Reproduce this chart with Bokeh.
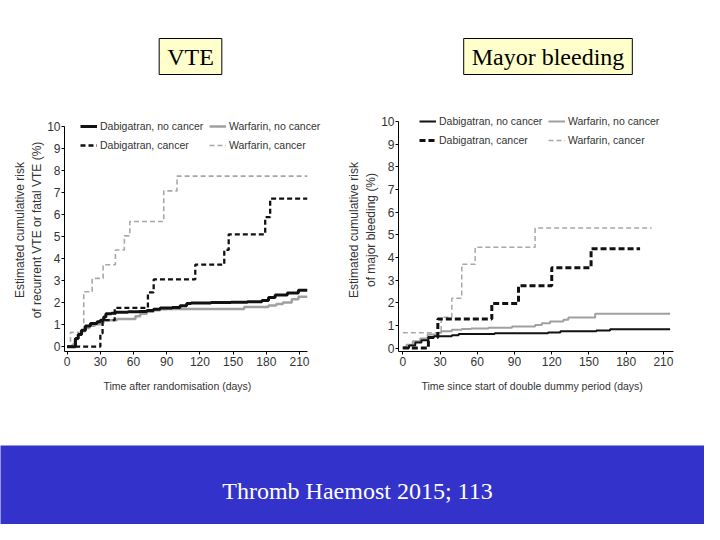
from bokeh.plotting import figure
from bokeh.layouts import column, row
from bokeh.models import Legend, LegendItem, Range1d, Label, FixedTicker, Title
from bokeh.embed import file_html
from bokeh.resources import INLINE

# ---------------- data ----------------
x_ticks = [0, 30, 60, 90, 120, 150, 180, 210]
y_ticks = list(range(0, 11))

# VTE panel (left)
vte_dab_nc_t = [0, 7.5, 10, 13, 16.5, 21, 27, 30, 33, 35, 40, 44, 55, 65, 72, 78, 84, 95, 102, 108, 112, 130, 148, 163, 176, 182, 188, 199, 209, 217]
vte_dab_nc_y = [0, 0.37, 0.55, 0.75, 0.94, 1.05, 1.13, 1.2, 1.35, 1.49, 1.52, 1.56, 1.58, 1.6, 1.64, 1.7, 1.75, 1.78, 1.86, 1.96, 1.98, 2.0, 2.02, 2.04, 2.1, 2.23, 2.35, 2.43, 2.56, 2.56]
vte_war_nc_t = [0, 5, 7, 10, 13, 16.5, 20, 25, 30, 33, 45, 61.7, 66, 72, 78, 84, 90, 160, 182, 189, 195, 203, 209, 217]
vte_war_nc_y = [0, 0.1, 0.35, 0.55, 0.7, 0.85, 0.95, 1.02, 1.1, 1.2, 1.26, 1.38, 1.49, 1.58, 1.65, 1.7, 1.71, 1.8, 1.87, 1.94, 2.0, 2.15, 2.26, 2.26]
vte_dab_c_t = [0, 30, 32, 43, 73, 78.2, 115.8, 142, 146, 179, 183.5, 217]
vte_dab_c_y = [0, 0.6, 1.2, 1.76, 2.46, 3.05, 3.72, 4.39, 5.1, 5.88, 6.72, 6.72]
vte_war_c_t = [0, 3, 15, 22.6, 32.5, 43.6, 51.7, 56.6, 87.3, 99.3, 217]
vte_war_c_y = [0, 0.65, 2.49, 3.1, 3.72, 4.39, 5.03, 5.68, 7.07, 7.74, 7.74]

# Major bleeding panel (right)
mb_dab_nc_t = [0, 5, 10, 15, 20.6, 25, 39.5, 45, 74, 117, 127, 156, 167, 215.4]
mb_dab_nc_y = [0, 0.12, 0.25, 0.35, 0.47, 0.52, 0.57, 0.62, 0.66, 0.69, 0.74, 0.78, 0.83, 0.83]
mb_war_nc_t = [0, 3, 8, 14, 20, 28, 31, 39.5, 47.5, 55, 69, 88, 106.6, 112, 118.6, 129.4, 133.4, 155, 215.4]
mb_war_nc_y = [0.05, 0.15, 0.3, 0.42, 0.6, 0.68, 0.74, 0.81, 0.84, 0.87, 0.9, 0.95, 1.02, 1.1, 1.17, 1.25, 1.35, 1.52, 1.52]
mb_dab_c_t = [0, 20.6, 28.2, 71.7, 93.2, 120, 151.7, 191.2]
mb_dab_c_y = [0, 0.47, 1.28, 1.97, 2.75, 3.55, 4.38, 4.38]
mb_war_c_t = [0, 30.9, 39.5, 47.5, 58.3, 106.6, 200.6]
mb_war_c_y = [0.68, 1.36, 2.2, 3.7, 4.45, 5.3, 5.3]

labels = ["Dabigatran, no cancer", "Dabigatran, cancer", "Warfarin, no cancer", "Warfarin, cancer"]

SANS = "Liberation Sans"
SERIF = "Liberation Serif"


def style_axes(p, xlabel, xlabel_offset, ylabel, xb, yb, ylab_standoff):
    p.outline_line_color = None
    p.grid.visible = False
    p.xaxis.ticker = FixedTicker(ticks=x_ticks)
    p.yaxis.ticker = FixedTicker(ticks=y_ticks)
    p.xaxis.bounds = xb
    p.yaxis.bounds = yb
    for ax in (p.xaxis[0], p.yaxis[0]):
        ax.axis_line_color = "black"
        ax.axis_line_width = 1
        ax.major_tick_line_color = "black"
        ax.major_tick_out = 3
        ax.major_tick_in = 0
        ax.minor_tick_line_color = None
        ax.major_label_text_font = SANS
        ax.major_label_text_font_size = "12px"
        ax.major_label_text_color = "#333333"
        ax.axis_label_text_color = "#333333"
        ax.axis_label_text_font_style = "normal"
    p.xaxis.major_label_standoff = 2
    # x-axis title, placed to sit under the bounded axis line
    p.add_layout(Title(text=xlabel, align="left", offset=xlabel_offset, standoff=18,
                       text_font=SANS, text_font_size="10.5px", text_font_style="normal",
                       text_color="#333333"), "below")
    p.yaxis.axis_label = ylabel
    p.yaxis.axis_label_text_font = SANS
    p.yaxis.axis_label_text_font_size = "12px"
    p.yaxis.axis_label_standoff = ylab_standoff
    p.yaxis.major_label_standoff = 1


def add_legends(p, rends, pos_a, pos_b, font_size):
    common = dict(orientation="vertical", background_fill_alpha=0, border_line_color=None,
                  padding=0, margin=0, spacing=3, label_height=16, glyph_height=16,
                  glyph_width=17, label_standoff=3, label_text_font=SANS,
                  label_text_font_size=font_size, label_text_color="#333333")
    la = Legend(items=[LegendItem(label=labels[0], renderers=[rends[0]]),
                       LegendItem(label=labels[1], renderers=[rends[1]])],
                location=pos_a, **common)
    lb = Legend(items=[LegendItem(label=labels[2], renderers=[rends[2]]),
                       LegendItem(label=labels[3], renderers=[rends[3]])],
                location=pos_b, **common)
    p.add_layout(la)
    p.add_layout(lb)


# ---------------- title strip ----------------
tp = figure(width=704, height=105, x_range=Range1d(0, 1), y_range=Range1d(0, 1),
            output_backend="svg", toolbar_location=None, min_border=0,
            x_axis_location=None, y_axis_location=None)
tp.grid.visible = False
tp.outline_line_color = None
for txt, cx in (("VTE", 190), ("Mayor bleeding", 547.5)):
    tp.add_layout(Label(x=cx, y=49, x_units="screen", y_units="screen", text=txt,
                        text_font=SERIF, text_font_size="24px", text_color="black",
                        text_align="center", text_baseline="middle",
                        background_fill_color="#FFFFCC", border_line_color="black",
                        border_line_width=1, padding=dict(left=8, right=8, top=5, bottom=5)))

# ---------------- left panel: VTE ----------------
p1 = figure(width=330, height=340, x_range=Range1d(-2.4, 233.5), y_range=Range1d(-0.22, 10.81),
            output_backend="svg", toolbar_location=None,
            min_border_left=64, min_border_right=5, min_border_top=3, min_border_bottom=90)
style_axes(p1, "Time after randomisation (days)", 39,
           "Estimated cumulative risk\nof recurrent VTE or fatal VTE (%)",
           (-2.4, 217.2), (-0.22, 10), 0)
r_wc = p1.step(vte_war_c_t, vte_war_c_y, mode="after", line_color="#A8A8A8", line_width=1.6, line_dash="5 3")
r_wnc = p1.step(vte_war_nc_t, vte_war_nc_y, mode="after", line_color="#A0A0A0", line_width=2.5)
r_dc = p1.step(vte_dab_c_t, vte_dab_c_y, mode="after", line_color="#111111", line_width=2.3, line_dash="5 3")
r_dnc = p1.step(vte_dab_nc_t, vte_dab_nc_y, mode="after", line_color="#111111", line_width=3)
add_legends(p1, [r_dnc, r_dc, r_wnc, r_wc], (16, 198), (145, 198), "10.5px")

# ---------------- right panel: Major bleeding ----------------
p2 = figure(width=374, height=340, x_range=Range1d(-3.5, 240.7), y_range=Range1d(-0.15, 10.57),
            output_backend="svg", toolbar_location=None,
            min_border_left=68, min_border_right=3, min_border_top=3, min_border_bottom=94)
style_axes(p2, "Time since start of double dummy period (days)", 23,
           "Estimated cumulative risk\nof major bleeding (%)",
           (-3.5, 218.1), (-0.15, 10), 0)
s_wc = p2.step(mb_war_c_t, mb_war_c_y, mode="after", line_color="#A8A8A8", line_width=1.5, line_dash="5 3")
s_wnc = p2.step(mb_war_nc_t, mb_war_nc_y, mode="after", line_color="#A0A0A0", line_width=2)
s_dnc = p2.step(mb_dab_nc_t, mb_dab_nc_y, mode="after", line_color="#111111", line_width=2)
s_dc = p2.step(mb_dab_c_t, mb_dab_c_y, mode="after", line_color="#111111", line_width=3, line_dash="6 3")
add_legends(p2, [s_dnc, s_dc, s_wnc, s_wc], (21, 203), (150, 203), "10.5px")

# ---------------- bottom band ----------------
bp = figure(width=704, height=79, x_range=Range1d(0, 1), y_range=Range1d(0, 1),
            output_backend="svg", toolbar_location=None, min_border=0,
            x_axis_location=None, y_axis_location=None,
            background_fill_color="#3333CC", border_fill_color="#3333CC")
bp.grid.visible = False
bp.outline_line_color = None
bp.add_layout(Label(x=357, y=34, x_units="screen", y_units="screen",
                    text="Thromb Haemost 2015; 113", text_font=SERIF, text_font_size="24px",
                    text_color="white", text_align="center", text_baseline="middle"))

layout = column(tp, row(p1, p2), bp)
open("out.html", "w").write(file_html(layout, INLINE))
